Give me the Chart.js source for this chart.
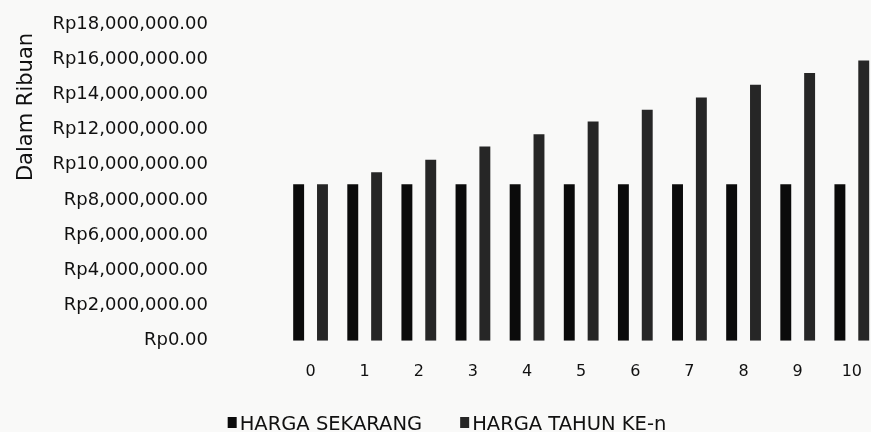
<!DOCTYPE html>
<html>
<head>
<meta charset="utf-8">
<script src="https://cdn.jsdelivr.net/npm/chart.js@4.4.1/dist/chart.umd.min.js"></script>
<style>
  html, body { margin: 0; padding: 0; overflow: hidden; background: #f9f9f8; }
  #wrap { width: 883px; height: 432px; }
</style>
</head>
<body>
<div id="wrap"><canvas id="grafik"></canvas></div>
<script>
// data (perkiraan)
const tahun = ["0", "1", "2", "3", "4", "5", "6", "7", "8", "9", "10"];
const hargaSekarang = [8900000, 8900000, 8900000, 8900000, 8900000, 8900000, 8900000, 8900000, 8900000, 8900000, 8900000];
const hargaTahunKe = [8900000, 9580000, 10280000, 11040000, 11740000, 12460000, 13130000, 13830000, 14550000, 15220000, 15920000];
const namaSeri = ["HARGA SEKARANG", "HARGA TAHUN KE-n"];
const judulSumbuY = "Dalam Ribuan";

const fontUtama = "'DejaVu Sans', sans-serif";
const warnaTeks = "#111111";

function rupiah(v) {
    return "Rp" + Number(v).toLocaleString("en-US", { minimumFractionDigits: 2, maximumFractionDigits: 2 });
}

// judul sumbu y dan legenda digambar sendiri supaya posisinya pas
const tambahan = {
    id: "tambahan",
    afterDraw(chart) {
        const ctx = chart.ctx;
        ctx.save();
        ctx.fillStyle = warnaTeks;
        ctx.font = "21px " + fontUtama;
        ctx.translate(32, 107);
        ctx.rotate(-Math.PI / 2);
        ctx.textAlign = "center";
        ctx.textBaseline = "alphabetic";
        ctx.fillText(judulSumbuY, 0, 0);
        ctx.restore();

        // legenda
        ctx.save();
        ctx.font = "19.5px " + fontUtama;
        ctx.textBaseline = "alphabetic";
        const ds = chart.data.datasets;
        let lebar = 0;
        ds.forEach((d, i) => {
            lebar += 12 + ctx.measureText(d.label).width;
            if (i < ds.length - 1) lebar += 38;
        });
        let x = 447 - lebar / 2;
        ds.forEach(d => {
            ctx.fillStyle = d.backgroundColor;
            ctx.fillRect(x, 417, 9, 11);
            ctx.fillStyle = warnaTeks;
            ctx.fillText(d.label, x + 12, 430);
            x += 12 + ctx.measureText(d.label).width + 38;
        });
        ctx.restore();
    }
};

new Chart(document.getElementById("grafik"), {
    type: "bar",
    data: {
        labels: tahun,
        datasets: [
            {
                label: namaSeri[0],
                data: hargaSekarang,
                backgroundColor: "#0b0b0b",
                categoryPercentage: 0.881,
                barPercentage: 0.458
            },
            {
                label: namaSeri[1],
                data: hargaTahunKe,
                backgroundColor: "#262626",
                categoryPercentage: 0.881,
                barPercentage: 0.458
            }
        ]
    },
    options: {
        responsive: true,
        maintainAspectRatio: false,
        animation: false,
        layout: { padding: { top: 24, bottom: 30, left: 0, right: 0 } },
        plugins: {
            legend: { display: false },
            tooltip: { enabled: false }
        },
        scales: {
            x: {
                grid: { display: false, drawTicks: false },
                border: { display: false },
                ticks: {
                    color: warnaTeks,
                    font: { family: fontUtama, size: 16 },
                    padding: 21
                }
            },
            y: {
                min: 0,
                max: 18000000,
                grid: { display: false, drawTicks: false },
                border: { display: false },
                afterFit(scale) {
                    scale.width = 283.5;
                    scale.paddingTop = 10;
                    scale.paddingBottom = 10;
                },
                ticks: {
                    stepSize: 2000000,
                    color: warnaTeks,
                    font: { family: fontUtama, size: 18 },
                    padding: 75.5,
                    callback: v => rupiah(v)
                }
            }
        }
    },
    plugins: [tambahan]
});
</script>
</body>
</html>
